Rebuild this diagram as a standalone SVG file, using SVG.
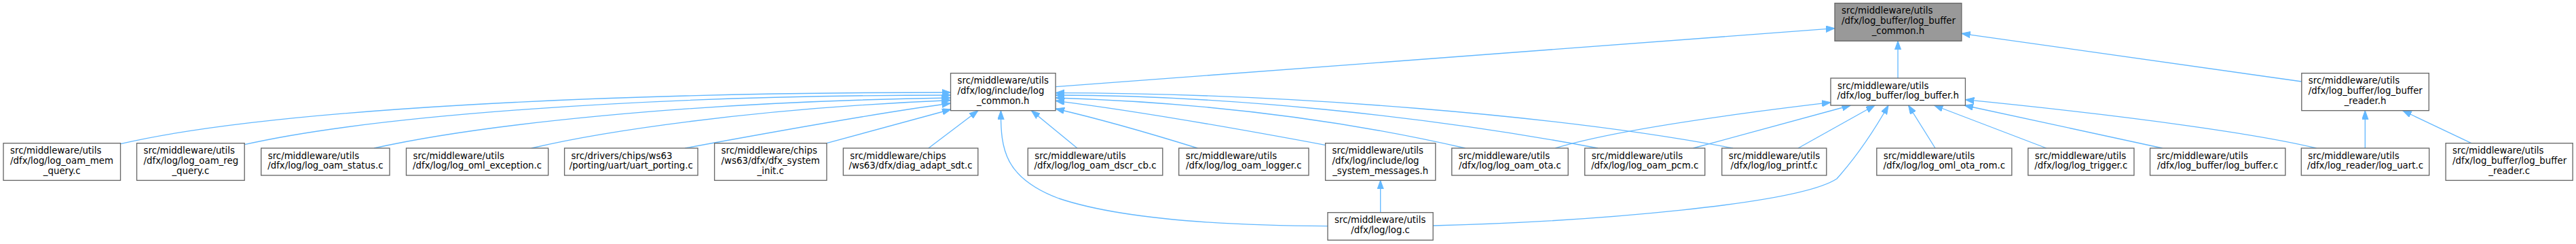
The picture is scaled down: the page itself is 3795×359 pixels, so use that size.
<svg xmlns="http://www.w3.org/2000/svg" width="3795" height="359" viewBox="0 0 3795 359">
<defs>
<style>
.node rect{fill:#ffffff;stroke:#666666;stroke-width:1.33}
.root rect{fill:#999999}
text{font-family:"DejaVu Sans","Liberation Sans",sans-serif;font-size:13.33px;fill:#000}
.m{text-anchor:middle}
.edges path{fill:none;stroke:#63b8ff;stroke-width:1.33;marker-end:url(#arr)}
</style>
<marker id="arr" markerUnits="userSpaceOnUse" markerWidth="14" markerHeight="10" refX="13" refY="4.7" orient="auto" viewBox="0 0 14 10">
<path d="M0,0 L13,4.7 L0,9.4 z" fill="#63b8ff" stroke="#63b8ff" stroke-width="1"/>
</marker>
</defs>
<rect width="3795" height="359" fill="#ffffff"/>
<g class="edges">
<path d="M1555.1,127.7 L2703,41.7"/>
<path d="M2796,115 L2796,60.3"/>
<path d="M3390.8,120 L2889.8,49.3"/>
<path d="M3484.3,218 L3484.3,162.7"/>
<path d="M3640.8,210.7 L3539.7,162.7"/>
<path d="M2291.3,218 C2340,203 2450,180 2697,150.7"/>
<path d="M2494.4,218 L2726.5,155"/>
<path d="M2649,218 L2762,155"/>
<path d="M2111.2,332 C2350,326 2650,300 2706,263 C2740,225 2765,185 2782,155"/>
<path d="M2851,218 L2811.5,155"/>
<path d="M3014.8,218 L2849.5,155"/>
<path d="M3185.7,218 L2894,155"/>
<path d="M3412.5,218 C3330,198 3150,172 2895.4,146.7"/>
<path d="M177.6,211.7 C400,160 900,136 1400.5,136"/>
<path d="M360.2,212.7 C550,170 950,140 1400.5,140"/>
<path d="M551,218 C700,185 1000,150 1400.5,144"/>
<path d="M783,218 C880,195 1100,160 1400.5,147.5"/>
<path d="M1009,218 C1150,192 1300,165 1400.5,152"/>
<path d="M1217.9,210.7 L1401,161"/>
<path d="M1367.9,218 L1441,162.7"/>
<path d="M1956,332.7 C1800,332 1650,322 1560,292 C1480,262 1474,220 1474.5,162.7"/>
<path d="M1587,218 L1519.4,162.7"/>
<path d="M1764.3,218 C1700,198 1620,175 1555.1,160"/>
<path d="M1952,213.3 C1800,185 1650,160 1555.1,148.3"/>
<path d="M2158.7,218 C1950,170 1750,150 1555.1,144"/>
<path d="M2354,218 C2100,170 1800,140 1555.1,140"/>
<path d="M2553,218 C2300,170 1900,137 1555.1,136.7"/>
<path d="M2033.7,312.7 L2033.7,265.3"/>
</g>
<g id="n_memq" class="node"><rect x="5" y="210.7" width="172.5" height="54.7"/><text x="15" y="226.4">src/middleware/utils</text><text x="15" y="241.1">/dfx/log/log_oam_mem</text><text class="m" x="91.25" y="255.7">_query.c</text></g>
<g id="n_regq" class="node"><rect x="201.5" y="210.7" width="158.7" height="54.7"/><text x="211.5" y="226.4">src/middleware/utils</text><text x="211.5" y="241.1">/dfx/log/log_oam_reg</text><text class="m" x="280.85" y="255.7">_query.c</text></g>
<g id="n_status" class="node"><rect x="384.7" y="218" width="189.3" height="40"/><text x="394.7" y="233.7">src/middleware/utils</text><text class="m" x="479.35" y="248.4">/dfx/log/log_oam_status.c</text></g>
<g id="n_exc" class="node"><rect x="598.5" y="218" width="209.2" height="40"/><text x="608.5" y="233.7">src/middleware/utils</text><text class="m" x="703.1" y="248.4">/dfx/log/log_oml_exception.c</text></g>
<g id="n_uart" class="node"><rect x="831.6" y="218" width="196.4" height="40"/><text x="841.6" y="233.7">src/drivers/chips/ws63</text><text class="m" x="929.8" y="248.4">/porting/uart/uart_porting.c</text></g>
<g id="n_sysinit" class="node"><rect x="1052.6" y="210.7" width="165.3" height="54.7"/><text x="1062.6" y="226.4">src/middleware/chips</text><text x="1062.6" y="241.1">/ws63/dfx/dfx_system</text><text class="m" x="1135.25" y="255.7">_init.c</text></g>
<g id="n_diag" class="node"><rect x="1242.3" y="218" width="198.5" height="40"/><text x="1252.3" y="233.7">src/middleware/chips</text><text class="m" x="1341.55" y="248.4">/ws63/dfx/diag_adapt_sdt.c</text></g>
<g id="n_logcommon" class="node"><rect x="1400.5" y="107.7" width="154.6" height="55"/><text x="1410.5" y="123.4">src/middleware/utils</text><text x="1410.5" y="138.1">/dfx/log/include/log</text><text class="m" x="1477.8" y="152.7">_common.h</text></g>
<g id="n_dscr" class="node"><rect x="1514.3" y="218" width="198.5" height="40"/><text x="1524.3" y="233.7">src/middleware/utils</text><text class="m" x="1613.55" y="248.4">/dfx/log/log_oam_dscr_cb.c</text></g>
<g id="n_logger" class="node"><rect x="1736.7" y="218" width="191.3" height="40"/><text x="1746.7" y="233.7">src/middleware/utils</text><text class="m" x="1832.35" y="248.4">/dfx/log/log_oam_logger.c</text></g>
<g id="n_sysmsg" class="node"><rect x="1952.6" y="210.7" width="162.2" height="54.7"/><text x="1962.6" y="226.4">src/middleware/utils</text><text x="1962.6" y="241.1">/dfx/log/include/log</text><text class="m" x="2033.7" y="255.7">_system_messages.h</text></g>
<g id="n_logc" class="node"><rect x="1956" y="312.7" width="155.2" height="40.6"/><text x="1966" y="328.4">src/middleware/utils</text><text class="m" x="2033.6" y="343.1">/dfx/log/log.c</text></g>
<g id="n_ota" class="node"><rect x="2138.8" y="218" width="171.4" height="40"/><text x="2148.8" y="233.7">src/middleware/utils</text><text class="m" x="2224.5" y="248.4">/dfx/log/log_oam_ota.c</text></g>
<g id="n_pcm" class="node"><rect x="2334.7" y="218" width="177" height="40"/><text x="2344.7" y="233.7">src/middleware/utils</text><text class="m" x="2423.2" y="248.4">/dfx/log/log_oam_pcm.c</text></g>
<g id="n_printf" class="node"><rect x="2536.7" y="218" width="154.1" height="40"/><text x="2546.7" y="233.7">src/middleware/utils</text><text class="m" x="2613.75" y="248.4">/dfx/log/log_printf.c</text></g>
<g id="n_root" class="node root"><rect x="2703" y="4.7" width="186.8" height="55.6"/><text x="2713" y="20.4">src/middleware/utils</text><text x="2713" y="35.1">/dfx/log_buffer/log_buffer</text><text class="m" x="2796.4" y="49.7">_common.h</text></g>
<g id="n_logbuf_h" class="node"><rect x="2697" y="115" width="198.4" height="40"/><text x="2707" y="130.7">src/middleware/utils</text><text class="m" x="2796.2" y="145.4">/dfx/log_buffer/log_buffer.h</text></g>
<g id="n_otarom" class="node"><rect x="2764.8" y="218" width="199" height="40"/><text x="2774.8" y="233.7">src/middleware/utils</text><text class="m" x="2864.3" y="248.4">/dfx/log/log_oml_ota_rom.c</text></g>
<g id="n_trigger" class="node"><rect x="2987.8" y="218" width="156.1" height="40"/><text x="2997.8" y="233.7">src/middleware/utils</text><text class="m" x="3065.85" y="248.4">/dfx/log/log_trigger.c</text></g>
<g id="n_logbuf_c" class="node"><rect x="3167.5" y="218" width="199.3" height="40"/><text x="3177.5" y="233.7">src/middleware/utils</text><text class="m" x="3267.15" y="248.4">/dfx/log_buffer/log_buffer.c</text></g>
<g id="n_reader_h" class="node"><rect x="3390.8" y="107.7" width="187.5" height="55"/><text x="3400.8" y="123.4">src/middleware/utils</text><text x="3400.8" y="138.1">/dfx/log_buffer/log_buffer</text><text class="m" x="3484.55" y="152.7">_reader.h</text></g>
<g id="n_uart_c" class="node"><rect x="3390.3" y="218" width="188.4" height="40"/><text x="3400.3" y="233.7">src/middleware/utils</text><text class="m" x="3484.5" y="248.4">/dfx/log_reader/log_uart.c</text></g>
<g id="n_reader_c" class="node"><rect x="3603.1" y="210.7" width="187.1" height="54.7"/><text x="3613.1" y="226.4">src/middleware/utils</text><text x="3613.1" y="241.1">/dfx/log_buffer/log_buffer</text><text class="m" x="3696.65" y="255.7">_reader.c</text></g>
</svg>
